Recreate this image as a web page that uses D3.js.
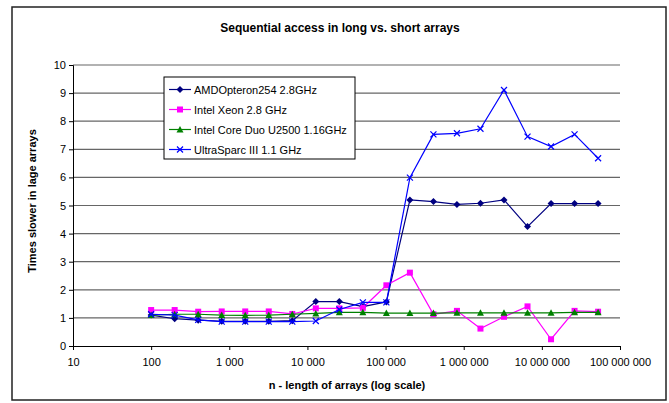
<!DOCTYPE html>
<html>
<head>
<meta charset="utf-8">
<script src="https://cdn.jsdelivr.net/npm/d3@7"></script>
<style>
  body { margin: 0; background: #fff; }
  svg { display: block; font-family: Arial, "Liberation Sans", sans-serif; }
</style>
</head>
<body>
<div id="chart"></div>
<script>
// array lengths (doubling from 100)
const sizes = [100, 200, 400, 800, 1600, 3200, 6400, 12800, 25600, 51200, 102400, 204800,
  409600, 819200, 1638400, 3276800, 6553600, 13107200, 26214400, 52428800];

const amd = [1.1, 0.97, 0.92, 0.88, 0.88, 0.88, 0.9, 1.58, 1.58, 1.4, 1.57, 5.2,
  5.14, 5.04, 5.08, 5.2, 4.25, 5.07, 5.07, 5.07];
const xeon = [1.28, 1.28, 1.22, 1.23, 1.23, 1.23, 1.14, 1.34, 1.34, 1.36, 2.16, 2.61,
  1.13, 1.25, 0.62, 1.04, 1.41, 0.24, 1.25, 1.22];
const coreDuo = [1.1, 1.13, 1.13, 1.1, 1.09, 1.1, 1.13, 1.16, 1.2, 1.2, 1.17, 1.17,
  1.17, 1.18, 1.18, 1.18, 1.18, 1.18, 1.2, 1.2];
const ultraSparc = [1.13, 1.1, 0.93, 0.87, 0.87, 0.87, 0.87, 0.89, 1.3, 1.55, 1.55, 5.99,
  7.53, 7.57, 7.73, 9.11, 7.45, 7.1, 7.53, 6.68];

const seriesNames = ["AMDOpteron254 2.8GHz", "Intel Xeon 2.8 GHz",
  "Intel Core Duo U2500 1.16GHz", "UltraSparc III 1.1 GHz"];
const xTicks = [10, 100, 1000, 10000, 100000, 1000000, 10000000, 100000000];
const yTicks = [0, 1, 2, 3, 4, 5, 6, 7, 8, 9, 10];

const width = 669;
const height = 403;
const margin = { top: 65, right: 49, bottom: 57, left: 73 };

const series = [
  { name: seriesNames[0], values: amd, color: "#000080", marker: "diamond" },
  { name: seriesNames[1], values: xeon, color: "#ff00ff", marker: "square" },
  { name: seriesNames[2], values: coreDuo, color: "#008000", marker: "triangle" },
  { name: seriesNames[3], values: ultraSparc, color: "#0000ff", marker: "cross" }
];

const svg = d3.select("#chart").append("svg")
  .attr("width", width)
  .attr("height", height);

// outer chart border
svg.append("rect")
  .attr("x", 12).attr("y", 7)
  .attr("width", 654).attr("height", 393)
  .attr("fill", "#fff")
  .attr("stroke", "#222")
  .attr("stroke-width", 1.5);

const x = d3.scaleLog()
  .domain([10, 100000000])
  .range([margin.left, width - margin.right]);

const y = d3.scaleLinear()
  .domain([0, 10])
  .range([height - margin.bottom, margin.top]);

// gridlines
svg.append("g")
  .selectAll("line")
  .data(yTicks.slice(1))
  .join("line")
  .attr("x1", margin.left)
  .attr("x2", width - margin.right)
  .attr("y1", d => y(d))
  .attr("y2", d => y(d))
  .attr("stroke", "#666")
  .attr("stroke-width", 1.2);

// space as thousands separator
const fmt = d => d3.format(",")(d).replace(/,/g, " ");

const xAxis = svg.append("g")
  .attr("transform", `translate(0,${y(0)})`)
  .call(d3.axisBottom(x).tickValues(xTicks).tickFormat(fmt).tickSize(4).tickPadding(8));

const yAxis = svg.append("g")
  .attr("transform", `translate(${margin.left},0)`)
  .call(d3.axisLeft(y).tickValues(yTicks).tickSize(4).tickPadding(3));

[xAxis, yAxis].forEach(g => {
  g.select(".domain").attr("stroke", "#000");
  g.selectAll(".tick line").attr("stroke", "#000");
  g.selectAll("text").attr("font-size", 11).attr("fill", "#000")
    .attr("font-family", "Arial, 'Liberation Sans', sans-serif");
});

// title and axis titles
svg.append("text")
  .attr("x", 340).attr("y", 32)
  .attr("text-anchor", "middle")
  .attr("font-size", 12).attr("font-weight", "bold")
  .text("Sequential access in long vs. short arrays");

svg.append("text")
  .attr("x", 347).attr("y", 389)
  .attr("text-anchor", "middle")
  .attr("font-size", 11).attr("font-weight", "bold")
  .text("n - length of arrays (log scale)");

svg.append("text")
  .attr("transform", "translate(36,201) rotate(-90)")
  .attr("text-anchor", "middle")
  .attr("font-size", 11).attr("font-weight", "bold")
  .text("Times slower in lage arrays");

// marker drawing
function drawMarker(g, type, color) {
  if (type === "diamond") {
    g.append("path").attr("d", "M0,-3.5L3.5,0L0,3.5L-3.5,0Z").attr("fill", color);
  } else if (type === "square") {
    g.append("rect").attr("x", -3).attr("y", -3).attr("width", 6).attr("height", 6).attr("fill", color);
  } else if (type === "triangle") {
    g.append("path").attr("d", "M0,-3.5L3.5,3L-3.5,3Z").attr("fill", color);
  } else {
    g.append("path").attr("d", "M-3,-3L3,3M-3,3L3,-3").attr("stroke", color).attr("stroke-width", 1.2);
  }
}

const line = d3.line()
  .x(d => x(d[0]))
  .y(d => y(d[1]));

series.forEach(s => {
  const pts = sizes.map((n, i) => [n, s.values[i]]);
  const g = svg.append("g");
  g.append("path")
    .datum(pts)
    .attr("fill", "none")
    .attr("stroke", s.color)
    .attr("stroke-width", 1.2)
    .attr("d", line);
  g.selectAll("g")
    .data(pts)
    .join("g")
    .attr("transform", d => `translate(${x(d[0])},${y(d[1])})`)
    .each(function () { drawMarker(d3.select(this), s.marker, s.color); });
});

// legend
const legend = svg.append("g").attr("transform", "translate(164,77)");
legend.append("rect")
  .attr("width", 191).attr("height", 82)
  .attr("fill", "#fff")
  .attr("stroke", "#000")
  .attr("stroke-width", 1);

series.forEach((s, i) => {
  const row = legend.append("g").attr("transform", `translate(0,${12.5 + i * 20})`);
  row.append("line")
    .attr("x1", 5).attr("x2", 27)
    .attr("stroke", s.color).attr("stroke-width", 1.2);
  drawMarker(row.append("g").attr("transform", "translate(16,0)"), s.marker, s.color);
  row.append("text")
    .attr("x", 30).attr("y", 4)
    .attr("font-size", 11)
    .text(s.name);
});
</script>
</body>
</html>
